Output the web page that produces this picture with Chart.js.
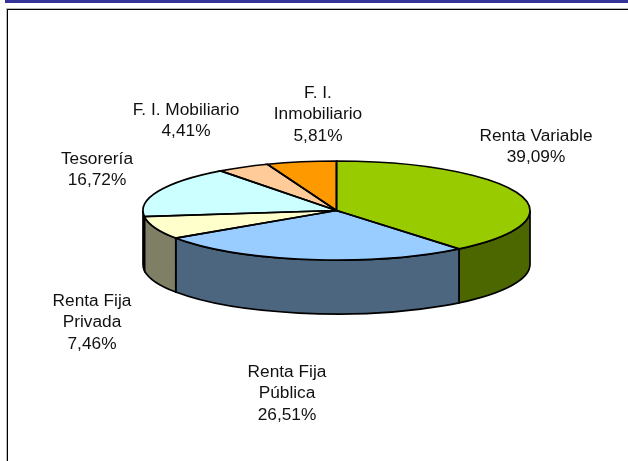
<!DOCTYPE html>
<html>
<head>
<meta charset="utf-8">
<script src="https://cdn.jsdelivr.net/npm/chart.js@4"></script>
<style>
html, body { margin: 0; padding: 0; background: #fff; }
canvas { display: block; }
</style>
</head>
<body>
<canvas id="pieChart" width="628" height="461"></canvas>
<script>
const categories = ['Renta Variable', 'Renta Fija Pública', 'Renta Fija Privada', 'Tesorería', 'F. I. Mobiliario', 'F. I. Inmobiliario'];
const values = [39.09, 26.51, 7.46, 16.72, 4.41, 5.81];
const valueLabels = ['39,09%', '26,51%', '7,46%', '16,72%', '4,41%', '5,81%'];
const labelLines = [['Renta Variable'], ['Renta Fija', 'Pública'], ['Renta Fija', 'Privada'], ['Tesorería'], ['F. I. Mobiliario'], ['F. I.', 'Inmobiliario']];
const labelCenterX = [536, 287, 92, 97, 186, 318];
const labelFirstY = [136, 372, 301, 159, 110, 93];
const topColors = ['#99CC00', '#99CCFF', '#FFFFCC', '#CCFFFF', '#FFCC99', '#FF9900'];
const sideColors = ['#4C6600', '#4C667F', '#7F7F66', '#667F7F', '#7F664C', '#7F4C00'];

const squash = 49.5 / 193.5; // pie seen at an angle
const depth = 54;
const lineH = 21.7;
const edge = 1.7;

// walls under the pie, only the front half shows
function drawWalls(chart) {
    const ctx = chart.ctx;
    chart.getDatasetMeta(0).data.forEach((arc, i) => {
        const a0 = Math.max(arc.startAngle, 0);
        const a1 = Math.min(arc.endAngle, Math.PI);
        if (a1 <= a0) return;
        const r = arc.outerRadius;
        ctx.beginPath();
        ctx.ellipse(arc.x, arc.y, r, r * squash, 0, a0, a1);
        ctx.lineTo(arc.x + r * Math.cos(a1), arc.y + r * squash * Math.sin(a1) + depth);
        ctx.ellipse(arc.x, arc.y + depth, r, r * squash, 0, a1, a0, true);
        ctx.closePath();
        ctx.fillStyle = sideColors[i];
        ctx.fill();
        ctx.lineWidth = edge;
        ctx.strokeStyle = '#000';
        ctx.stroke();
    });
}

const pie3d = {
    id: 'pie3d',
    beforeDraw(chart) {
        const ctx = chart.ctx;
        // top bar and frame of the slide
        ctx.fillStyle = '#333399';
        ctx.fillRect(5, 0, 623, 3);
        ctx.fillStyle = '#bbb';
        ctx.fillRect(6, 8, 622, 1);
        ctx.fillRect(6, 8, 1, 453);
        ctx.fillStyle = '#000';
        ctx.fillRect(7, 9, 621, 1);
        ctx.fillRect(7, 9, 1, 452);
    },
    beforeDatasetsDraw(chart) {
        drawWalls(chart);
        const arc = chart.getDatasetMeta(0).data[0];
        chart.ctx.save();
        chart.ctx.translate(arc.x, arc.y);
        chart.ctx.scale(1, squash);
        chart.ctx.translate(-arc.x, -arc.y);
    },
    afterDatasetsDraw(chart) {
        const ctx = chart.ctx;
        ctx.restore();
        // outlines after the restore so the line width stays even
        chart.getDatasetMeta(0).data.forEach(arc => {
            const r = arc.outerRadius;
            ctx.beginPath();
            ctx.moveTo(arc.x, arc.y);
            ctx.ellipse(arc.x, arc.y, r, r * squash, 0, arc.startAngle, arc.endAngle);
            ctx.closePath();
            ctx.lineWidth = edge;
            ctx.strokeStyle = '#000';
            ctx.stroke();
        });
        ctx.font = '17.3px "Liberation Sans", Arial, sans-serif';
        ctx.fillStyle = '#111';
        ctx.textAlign = 'center';
        ctx.textBaseline = 'middle';
        categories.forEach((c, i) => {
            const lines = labelLines[i].concat(valueLabels[i]);
            lines.forEach((t, k) => ctx.fillText(t, labelCenterX[i], labelFirstY[i] + k * lineH));
        });
    }
};

new Chart(document.getElementById('pieChart'), {
    type: 'pie',
    data: {
        labels: categories,
        datasets: [{
            data: values,
            backgroundColor: topColors,
            borderWidth: 0
        }]
    },
    options: {
        responsive: false,
        animation: false,
        events: [],
        layout: { padding: { left: 143, right: 98, top: 17, bottom: 57 } },
        plugins: { legend: { display: false }, tooltip: { enabled: false } }
    },
    plugins: [pie3d]
});
</script>
</body>
</html>
